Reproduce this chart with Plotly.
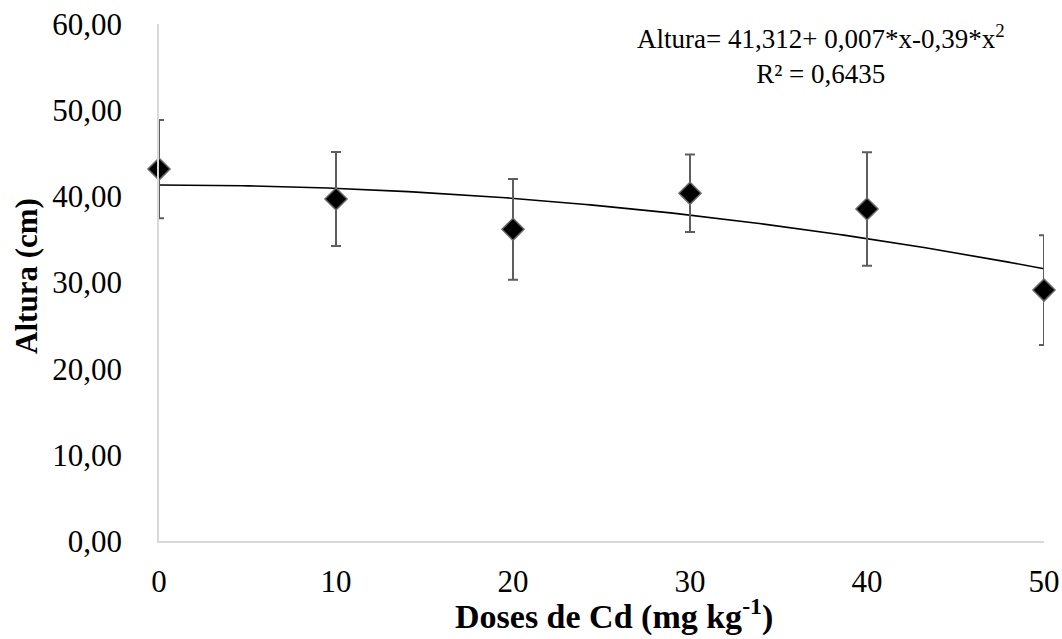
import numpy as np
import plotly.graph_objects as go

# Cd doses (mg kg-1) and mean plant height (cm) with standard deviation
doses = [0, 10, 20, 30, 40, 50]
altura = [43.17, 39.69, 36.17, 40.35, 38.53, 29.12]
desvio = [5.70, 5.45, 5.85, 4.50, 6.60, 6.36]

# Quadratic fit coefficients (x = dose level, dose / 10)
coef_a = 41.312
coef_b = 0.007
coef_c = -0.39
r2_text = "0,6435"

y_ticks = [0, 10, 20, 30, 40, 50, 60]
y_tick_text = ["0,00", "10,00", "20,00", "30,00", "40,00", "50,00", "60,00"]
x_ticks = [0, 10, 20, 30, 40, 50]

serif = "Liberation Serif"

xs = np.linspace(doses[0], doses[-1], 200)
lvl = xs / 10.0
ys = coef_a + coef_b * lvl + coef_c * lvl ** 2

fig = go.Figure()

fig.add_trace(go.Scatter(
    x=xs, y=ys, mode="lines",
    line=dict(color="black", width=1.6),
    hoverinfo="skip", showlegend=False,
))

fig.add_trace(go.Scatter(
    x=doses, y=altura, mode="markers",
    marker=dict(symbol="diamond", size=17, color="black",
                line=dict(color="#6a6a6a", width=1.5)),
    error_y=dict(type="data", array=desvio, visible=True,
                 color="#5e5e5e", thickness=2, width=5),
    cliponaxis=False, showlegend=False,
))

# Regression equation
fig.add_annotation(
    x=0.748, y=1.012, xref="paper", yref="paper",
    xanchor="center", yanchor="top", showarrow=False, align="center",
    text=("Altura= 41,312+ 0,007*x-0,39*x<sup>2</sup><br>"
          "R² = " + r2_text),
    font=dict(family=serif, size=27, color="black"),
)

# Axis titles
fig.add_annotation(
    x=-0.149, y=0.513, xref="paper", yref="paper",
    xanchor="center", yanchor="middle", showarrow=False, textangle=-90,
    text="<b>Altura (cm)</b>",
    font=dict(family=serif, size=31, color="black"),
)
fig.add_annotation(
    x=0.514, y=-0.143, xref="paper", yref="paper",
    xanchor="center", yanchor="middle", showarrow=False,
    text="<b>Doses de Cd (mg kg<sup>-1</sup>)</b>",
    font=dict(family=serif, size=34, color="black"),
)

fig.update_layout(
    width=1062, height=639,
    margin=dict(l=159, r=18, t=24, b=98),
    paper_bgcolor="white", plot_bgcolor="white",
    font=dict(family=serif, color="black"),
    xaxis=dict(
        range=[0, 50], tickvals=x_ticks, ticktext=[str(v) for v in x_ticks],
        showgrid=False, zeroline=False, showline=True, automargin=False,
        linecolor="#d9d9d9", linewidth=1.5, ticks="",
        tickfont=dict(family=serif, size=31, color="black"),
        ticklabelstandoff=12,
    ),
    yaxis=dict(
        range=[0, 60], tickvals=y_ticks, ticktext=y_tick_text,
        showgrid=False, zeroline=False, showline=True, automargin=False,
        linecolor="#d9d9d9", linewidth=1.5, ticks="",
        tickfont=dict(family=serif, size=31, color="black"),
        ticklabelstandoff=29,
    ),
)

fig.write_html("out.html")
